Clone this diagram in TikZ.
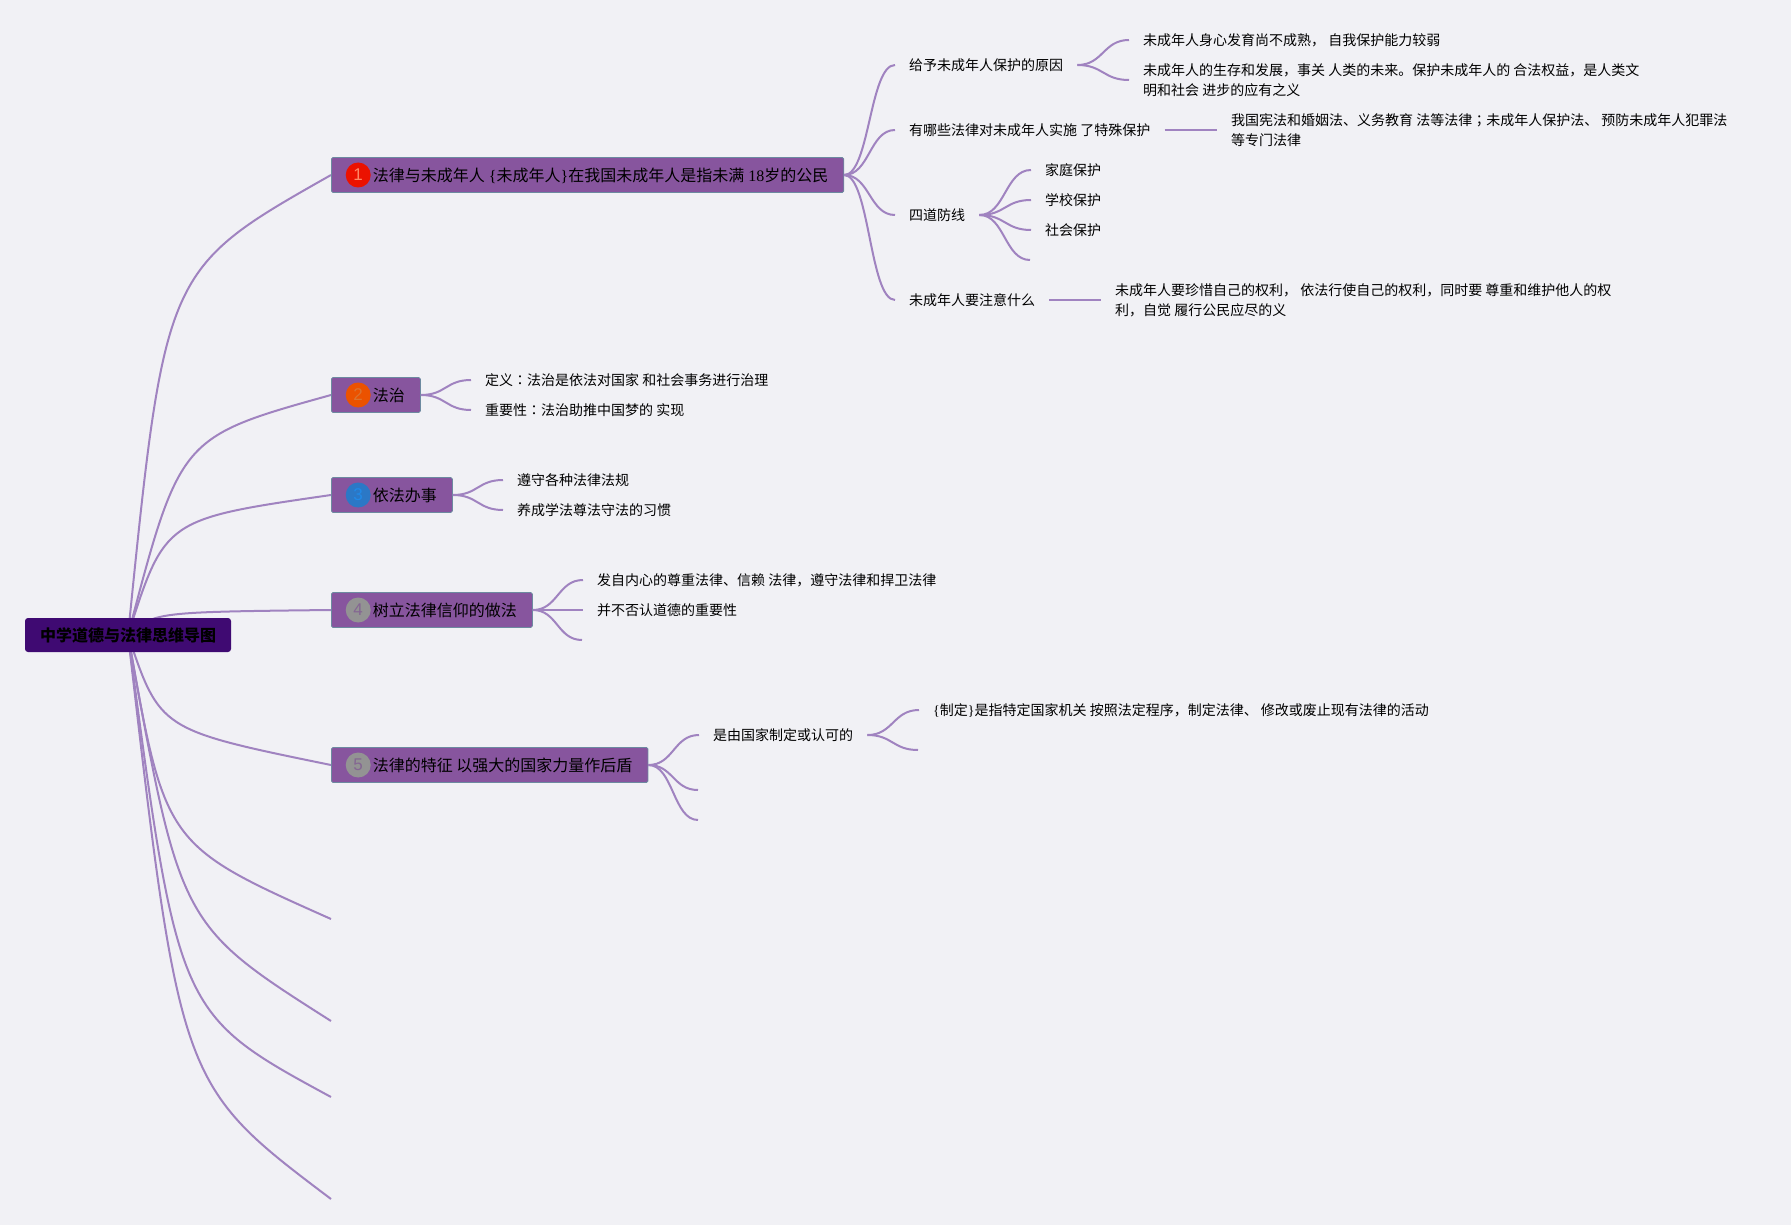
\documentclass[tikz,border=0pt]{standalone}
\usepackage{fontspec}
\usepackage{xcolor}
\usepackage{tikz}
\usetikzlibrary{positioning, backgrounds, calc}
\newfontfamily\cjk{Noto Sans CJK SC}
\newfontfamily\cjktc{Noto Sans CJK TC}
\newfontfamily\latin{Liberation Serif}
\newfontfamily\digits{Liberation Sans}
\definecolor{paper}{HTML}{F1F1F5}
\definecolor{branchline}{HTML}{A083C0}
\definecolor{rootfill}{HTML}{3F0A72}
\definecolor{topicfill}{HTML}{87559E}
\definecolor{topicedge}{HTML}{6D8AA0}

\begin{document}
\begin{tikzpicture}[
        x=1pt, y=-1pt,
        root/.style={rectangle, rounded corners=3pt, fill=rootfill, minimum width=206pt, minimum height=34pt, inner sep=0pt, text depth=0pt, font=\fontsize{16}{20}\selectfont\cjk\bfseries},
        topic/.style={rectangle, rounded corners=1.5pt, draw=topicedge, line width=0.8pt, fill=topicfill, anchor=west, minimum height=35pt, inner xsep=15.5pt, inner ysep=0pt, text depth=-1pt, font=\fontsize{16}{20}\selectfont\cjk, execute at begin node={\hspace*{26pt}}},
        badge/.style={circle, minimum size=25pt, inner sep=0pt, font=\fontsize{17}{17}\selectfont\digits},
        leaf/.style={anchor=west, inner xsep=14pt, inner ysep=0pt, align=left, text depth=0pt, font=\fontsize{14}{20}\selectfont\cjk},
        branch/.style={draw=branchline, line width=2pt},
        fork/.style={to path={let \p1=(\tikztostart), \p2=(\tikztotarget), \n1={(\x1+\x2)/2} in .. controls (\n1,\y1) and (\n1,\y2) .. (\tikztotarget)}}
    ]
        \useasboundingbox (0,0) rectangle (1791,1225);

        \node[root] (root) at (128,635) {中学道德与法律思维导图};

        \node[topic] (minor) at (331,175) {法律与未成年人{\latin\ \{}未成年人{\latin\}}在我国未成年人是指未满{\latin\ 18}岁的公民};
        \node[topic] (rulelaw) at (331,395) {法治};
        \node[topic] (lawful) at (331,495) {依法办事};
        \node[topic] (belief) at (331,610) {树立法律信仰的做法};
        \node[topic] (feature) at (331,765) {法律的特征 以强大的国家力量作后盾};

        \node[badge, fill=red!85!orange!92!black, text=red!55!orange!60!white, right=14.5pt of minor.west] (badgeA) {1};
        \node[badge, fill=orange!70!red!92!black, text=orange!70!topicfill, right=14.5pt of rulelaw.west] (badgeB) {2};
        \node[badge, fill=cyan!50!blue!90!white, text=topicfill!35!cyan!70!blue, right=14.5pt of lawful.west] (badgeC) {3};
        \node[badge, fill=gray!85, text=topicfill!60!gray, right=14.5pt of belief.west] (badgeD) {4};
        \node[badge, fill=gray!85, text=topicfill!60!gray, right=14.5pt of feature.west] (badgeE) {5};

        % free ends of the main branches
        \coordinate (freeA) at (331,919);
        \coordinate (freeB) at (331,1021);
        \coordinate (freeC) at (331,1097);
        \coordinate (freeD) at (331,1199);

        % main branches
        \begin{scope}[on background layer]
            \fill[paper] (0,0) rectangle (1791,1225);
            \draw[branch] (root.center) .. controls (165,269) .. (minor.west);
            \draw[branch] (root.center) .. controls (180,437) .. (rulelaw.west);
            \draw[branch] (root.center) .. controls (165,519) .. (lawful.west);
            \draw[branch] (root.center) .. controls (155,612) .. (belief.west);
            \draw[branch] (root.center) .. controls (160,730) .. (feature.west);
            \draw[branch] (root.center) .. controls (165,845) .. (freeA);
            \draw[branch] (root.center) .. controls (180,925) .. (freeB);
            \draw[branch] (root.center) .. controls (178,1014) .. (freeC);
            \draw[branch] (root.center) .. controls (180,1085) .. (freeD);
        \end{scope}

        % children of the first topic
        \node[leaf] (reason) at (895,65) {给予未成年人保护的原因};
        \node[leaf] (laws) at (895,130) {有哪些法律对未成年人实施 了特殊保护};
        \node[leaf] (defense) at (895,215) {四道防线};
        \node[leaf] (attention) at (895,300) {未成年人要注意什么};
        \draw[branch] (minor.east) to[fork] (reason.west);
        \draw[branch] (minor.east) to[fork] (laws.west);
        \draw[branch] (minor.east) to[fork] (defense.west);
        \draw[branch] (minor.east) to[fork] (attention.west);

        \node[leaf] (immature) at (1129,40) {未成年人身心发育尚不成熟， 自我保护能力较弱};
        \node[leaf] (future) at (1129,80) {未成年人的生存和发展，事关 人类的未来。保护未成年人的 合法权益，是人类文\\明和社会 进步的应有之义};
        \draw[branch] (reason.east) to[fork] (immature.west);
        \draw[branch] (reason.east) to[fork] (future.west);

        \node[leaf] (statutes) at (1217,130) {我国宪法和婚姻法、义务教育 法等法律{\cjktc ；}未成年人保护法、 预防未成年人犯罪法\\等专门法律};
        \draw[branch] (laws.east) -- (statutes.west);

        \node[leaf] (family) at (1031,170) {家庭保护};
        \node[leaf] (school) at (1031,200) {学校保护};
        \node[leaf] (society) at (1031,230) {社会保护};
        \coordinate (defenseEnd) at (1030,260);
        \draw[branch] (defense.east) to[fork] (family.west);
        \draw[branch] (defense.east) to[fork] (school.west);
        \draw[branch] (defense.east) to[fork] (society.west);
        \draw[branch] (defense.east) to[fork] (defenseEnd);

        \node[leaf] (cherish) at (1101,300) {未成年人要珍惜自己的权利， 依法行使自己的权利，同时要 尊重和维护他人的权\\利，自觉 履行公民应尽的义};
        \draw[branch] (attention.east) -- (cherish.west);

        % children of the other topics
        \node[leaf] (definition) at (471,380) {定义{\cjktc ：}法治是依法对国家 和社会事务进行治理};
        \node[leaf] (importance) at (471,410) {重要性{\cjktc ：}法治助推中国梦的 实现};
        \draw[branch] (rulelaw.east) to[fork] (definition.west);
        \draw[branch] (rulelaw.east) to[fork] (importance.west);

        \node[leaf] (obey) at (503,480) {遵守各种法律法规};
        \node[leaf] (habit) at (503,510) {养成学法尊法守法的习惯};
        \draw[branch] (lawful.east) to[fork] (obey.west);
        \draw[branch] (lawful.east) to[fork] (habit.west);

        \node[leaf] (respect) at (583,580) {发自内心的尊重法律、信赖 法律，遵守法律和捍卫法律};
        \node[leaf] (morals) at (583,610) {并不否认道德的重要性};
        \coordinate (beliefEnd) at (582,640);
        \draw[branch] (belief.east) to[fork] (respect.west);
        \draw[branch] (belief.east) -- (morals.west);
        \draw[branch] (belief.east) to[fork] (beliefEnd);

        \node[leaf] (enact) at (699,735) {是由国家制定或认可的};
        \coordinate (featureEndA) at (698,790);
        \coordinate (featureEndB) at (698,820);
        \draw[branch] (feature.east) to[fork] (enact.west);
        \draw[branch] (feature.east) to[fork] (featureEndA);
        \draw[branch] (feature.east) to[fork] (featureEndB);

        \node[leaf] (meaning) at (919,710) {{\latin\{}制定{\latin\}}是指特定国家机关 按照法定程序，制定法律、 修改或废止现有法律的活动};
        \coordinate (enactEnd) at (918,750);
        \draw[branch] (enact.east) to[fork] (meaning.west);
        \draw[branch] (enact.east) to[fork] (enactEnd);
    \end{tikzpicture}
\end{document}
